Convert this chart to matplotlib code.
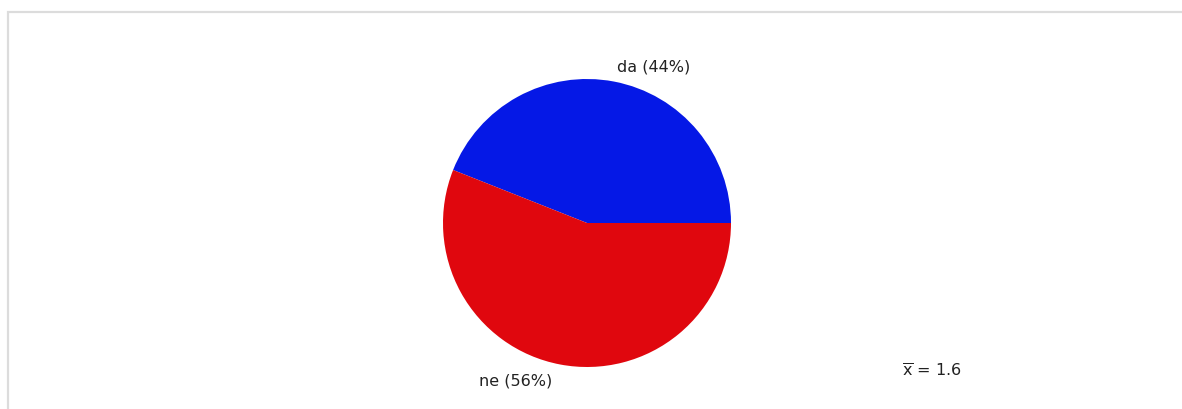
import matplotlib.pyplot as plt
from matplotlib.patches import Rectangle

labels = ['da (44%)', 'ne (56%)']
values = [44, 56]
colors = ['#0518e6', '#e0070e']
mean_text = r'$\overline{\mathrm{x}}$ = 1.6'

W, H = 1182, 410
cx, cy = 587, 186
fig = plt.figure(figsize=(W / 100, H / 100), dpi=100)
ax = fig.add_axes([0, 0, 1, 1])

# light frame, open at right and bottom
ax.add_patch(Rectangle((8, -20), W + 40, H - 13 + 20, fill=False,
                       edgecolor='#dcdcdc', linewidth=1.6))

wedges, texts = ax.pie(values, labels=labels, colors=colors, startangle=0,
                       counterclock=True, radius=144, center=(cx, cy),
                       labeldistance=1.11, frame=True,
                       textprops={'fontsize': 11.5, 'color': '#222222'})
# pie picks alignment from the absolute x, fix it relative to the centre
for t in texts:
    x, y = t.get_position()
    if x > cx:
        t.set_ha('left')
    else:
        t.set_ha('right')
        t.set_x(x - 5)

ax.set_xlim(0, W)
ax.set_ylim(0, H)
ax.set_aspect('auto')
ax.axis('off')

ax.text(902, 39, mean_text, fontsize=11.5, ha='left', va='center', color='#222222')

fig.savefig('out.png', dpi=100)
